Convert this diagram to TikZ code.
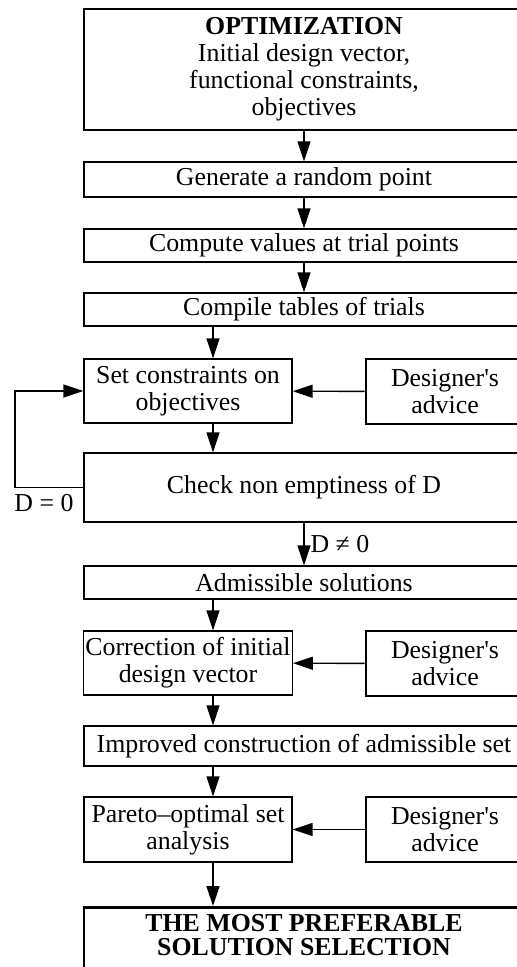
\documentclass[tikz,border=0pt]{standalone}
\usepackage{fontspec}
\setmainfont{Liberation Serif}
\usetikzlibrary{arrows.meta}

\newcommand{\apos}{\textquotesingle}

\begin{document}
\begin{tikzpicture}[
  font=\fontsize{14.7pt}{15.4pt}\selectfont,
  box/.style={draw, rectangle, line width=0.7pt, align=center, inner xsep=1pt, inner ysep=2pt},
  widebox/.style={box, minimum width=8.8cm},
  halfbox/.style={box, minimum width=4.16cm},
  advicebox/.style={box, line width=1.6pt, minimum width=3.16cm},
  headbox/.style={widebox, line width=1.6pt},
  tag/.style={inner sep=0pt},
  arrow/.style={-{Triangle[length=0.4cm, width=0.26cm]}, line width=0.8pt}
]
\useasboundingbox (0,0) rectangle (10.34,-19.34);

% Setup and trials
\node[headbox, minimum height=2.42cm] (opt) at (6.08, -1.39) {\textbf{OPTIMIZATION}\\Initial design vector,\\functional constraints,\\objectives};
\node[widebox, minimum height=0.70cm] (gen) at (6.08, -3.59) {Generate a random point};
\node[widebox, minimum height=0.66cm] (comp) at (6.08, -4.91) {Compute values at trial points};
\node[widebox, minimum height=0.66cm] (tables) at (6.08, -6.19) {Compile tables of trials};

\coordinate (spine) at (4.26, 0);
\coordinate (loop) at (0.30, 0);

\draw[arrow] (opt) -- (gen);
\draw[arrow] (gen) -- (comp);
\draw[arrow] (comp) -- (tables);

% Constraints and the check of D
\node[halfbox, minimum height=1.28cm] (setc) at (3.76, -7.82) {Set constraints on\\objectives};
\node[advicebox, minimum height=1.30cm] (adv1) at (8.90, -7.83) {Designer\apos s\\advice};
\node[widebox, minimum height=1.38cm] (check) at (6.08, -9.75) {Check non emptiness of D};
\node[tag] (dzero) at (0.88, -10.06) {D = 0};

\draw[arrow] (tables.south -| spine) -- (setc.north -| spine);
\draw[arrow] (adv1) -- (setc);
\draw[arrow] (setc.south -| spine) -- (check.north -| spine);
\draw[arrow] (check.west) -- (check.west -| loop) |- (setc.west);

% Admissible set
\node[widebox, minimum height=0.66cm] (adm) at (6.08, -11.65) {Admissible solutions};
\node[halfbox, minimum height=1.28cm] (corr) at (3.76, -13.26) {Correction of initial\\design vector};
\node[advicebox, minimum height=1.30cm] (adv2) at (8.90, -13.27) {Designer\apos s\\advice};
\node[widebox, minimum height=0.80cm] (impr) at (6.08, -14.92) {Improved construction of admissible set};

\draw[arrow] (check) -- node[right] (dnz) {D ≠ 0} (adm);
\draw[arrow] (adm.south -| spine) -- (corr.north -| spine);
\draw[arrow] (adv2) -- (corr);
\draw[arrow] (corr.south -| spine) -- (impr.north -| spine);

% Pareto analysis and final choice
\node[halfbox, minimum height=1.30cm] (pareto) at (3.76, -16.59) {Pareto--optimal set\\analysis};
\node[advicebox, minimum height=1.30cm] (adv3) at (8.90, -16.59) {Designer\apos s\\advice};
\node[headbox, anchor=north, inner ysep=4pt, text depth=1.4cm] (final) at (6.08, -18.12) {\textbf{THE MOST PREFERABLE}\\[-1.7pt]\textbf{SOLUTION SELECTION}};

\draw[arrow] (impr.south -| spine) -- (pareto.north -| spine);
\draw[arrow] (adv3) -- (pareto);
\draw[arrow] (pareto.south -| spine) -- (final.north -| spine);

\end{tikzpicture}
\end{document}
